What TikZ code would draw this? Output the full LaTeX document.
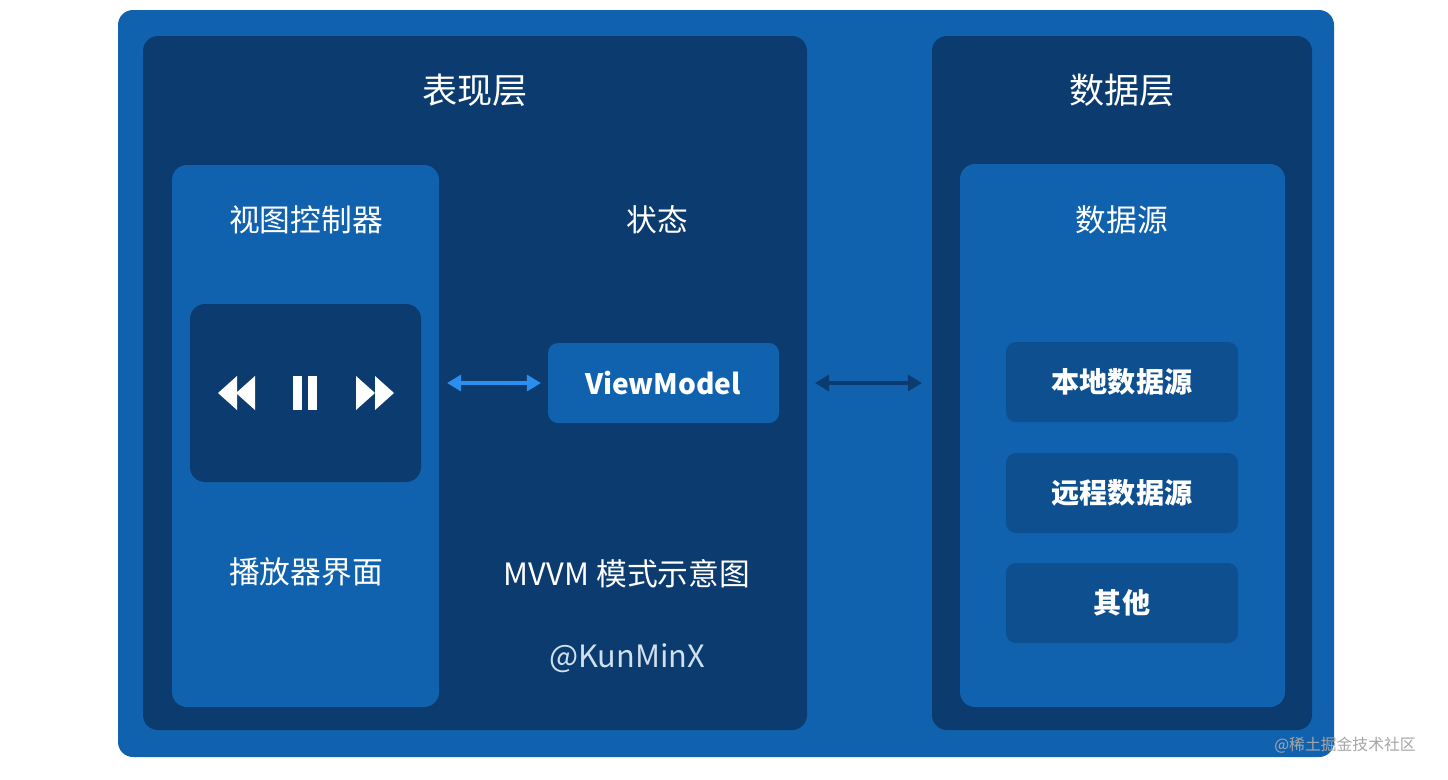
\documentclass[tikz,border=0pt]{standalone}
\usepackage{fontspec}
\setmainfont{Noto Sans CJK SC}
\usetikzlibrary{arrows.meta}
\definecolor{outer}{HTML}{1162AE}
\definecolor{dark}{HTML}{0C3B6F}
\definecolor{mid}{HTML}{0E4F90}
\definecolor{arrowblue}{HTML}{2B8FEF}
\begin{document}
\begin{tikzpicture}[x=0.02cm,y=-0.02cm,
  box/.style={draw=none,rounded corners=0.3cm},
  title/.style={text=white,font=\fontsize{20}{24}\selectfont},
  sub/.style={text=white,font=\fontsize{17.5}{21}\selectfont},
  bld/.style={text=white,font=\bfseries\fontsize{16}{19}\selectfont},
  icon/.style={fill=white,draw=none}]
\useasboundingbox (0,0) rectangle (1448,779);
\fill[white] (0,0) rectangle (1448,779);
\fill[outer,box] (118,10) rectangle (1334,757);
\fill[dark,box] (143,36) rectangle (807,730);
\fill[dark,box] (932,36) rectangle (1312,730);
\fill[outer,box] (172,165) rectangle (439,707);
\fill[dark,box] (190,304) rectangle (421,482);
\fill[outer,box,rounded corners=0.2cm] (548,343) rectangle (779,423);
\fill[outer,box] (960,164) rectangle (1285,707);
\fill[mid,box,rounded corners=0.2cm] (1006,342) rectangle (1238,422);
\fill[mid,box,rounded corners=0.2cm] (1006,453) rectangle (1238,533);
\fill[mid,box,rounded corners=0.2cm] (1006,563) rectangle (1238,643);
\node[title] (t1) at (475,90) {表现层};
\node[title] (t2) at (1122,90) {数据层};
\node[sub] (vc) at (306,220) {视图控制器};
\node[sub] (st) at (657,220) {状态};
\node[sub] (ds) at (1122,220) {数据源};
\node[sub] (pl) at (306,572) {播放器界面};
\node[sub] (mv) at (627,574) {MVVM 模式示意图};
\node[text=white!80!outer,font=\fontsize{17.5}{21}\selectfont] (km) at (627,658) {@KunMinX};
\node[bld] (vm) at (663,383) {ViewModel};
\node[bld] (b1) at (1122,382) {本地数据源};
\node[bld] (b2) at (1122,493) {远程数据源};
\node[bld] (b3) at (1122,603) {其他};
\node[text=gray!70,font=\fontsize{9}{11}\selectfont] (wm) at (1345,745) {@稀土掘金技术社区};
% icons
\fill[icon] (218,393) -- (237,376) -- (237,410) -- cycle;
\fill[icon] (236,393) -- (255,376) -- (255,410) -- cycle;
\fill[icon] (293,376) rectangle (302,410);
\fill[icon] (308,376) rectangle (317,410);
\fill[icon] (356,376) -- (375,393) -- (356,410) -- cycle;
\fill[icon] (375,376) -- (394,393) -- (375,410) -- cycle;
% arrows
\coordinate (a1) at (447,383); \coordinate (a2) at (541,383);
\coordinate (c1) at (815,383); \coordinate (c2) at (922,383);
\draw[arrowblue,line width=2.2pt,{Triangle[length=8pt,width=9pt]}-{Triangle[length=8pt,width=9pt]}] (a1) -- (a2);
\draw[dark,line width=2.2pt,{Triangle[length=8pt,width=9pt]}-{Triangle[length=8pt,width=9pt]}] (c1) -- (c2);
\end{tikzpicture}
\end{document}
